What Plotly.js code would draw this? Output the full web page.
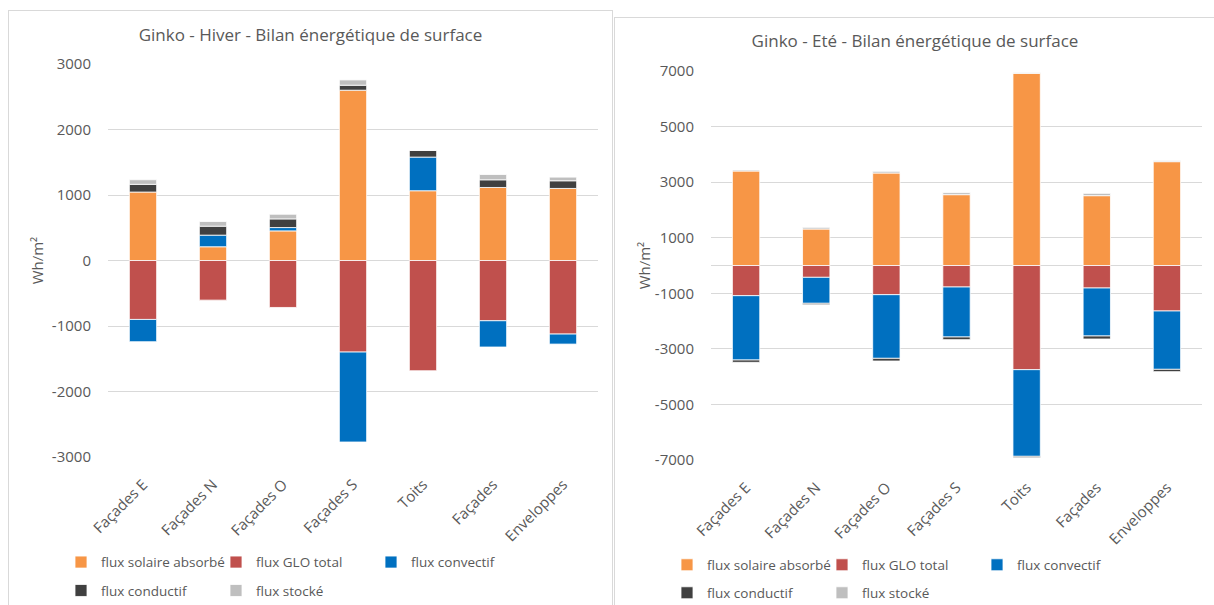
<!DOCTYPE html>
<html><head><meta charset="utf-8">
<script src="https://cdn.plot.ly/plotly-3.0.1.min.js"></script>
<style>
html,body{margin:0;padding:0;background:#fff;overflow:hidden;width:1214px;height:605px;}
.frame{position:absolute;border:1px solid #d9d9d9;background:#fff;}
</style></head><body>
<div class="frame" style="left:8px;top:10px;width:603px;height:620px;"><div id="c1" style="width:603px;height:594px"></div></div>
<div class="frame" style="left:614px;top:17px;width:620px;height:620px;"><div id="c2" style="width:600px;height:587px"></div></div>
<script>
const categories = ["Façades E", "Façades N", "Façades O", "Façades S", "Toits", "Façades", "Enveloppes"];
const seriesNames = ["flux solaire absorbé", "flux GLO total", "flux convectif", "flux conductif", "flux stocké"];

// Hiver (Wh/m²)
const hiverSolaire   = [1045, 210, 452, 2600, 1065, 1115, 1100];
const hiverGLO       = [-900, -605, -717, -1398, -1683, -920, -1123];
const hiverConvectif = [-340, 177, 51, -1373, 514, -401, -153];
const hiverConductif = [118, 137, 132, 76, 101, 117, 117];
const hiverStocke    = [70, 71, 71, 81, 4, 81, 56];

// Eté (Wh/m²)
const eteSolaire   = [3401, 1314, 3329, 2549, 6916, 2513, 3737];
const eteGLO       = [-1086, -426, -1050, -774, -3749, -810, -1637];
const eteConvectif = [-2315, -935, -2291, -1799, -3119, -1727, -2100];
const eteConductif = [-84, -49, -96, -96, -48, -108, -84];
const eteStocke    = [36, 60, 60, 72, 20, 84, 36];

const hiverTickVals = [-3000, -2000, -1000, 0, 1000, 2000, 3000];
const hiverTickText = ["-3000", "-2000", "-1000", "0", "1000", "2000", "3000"];
const eteTickVals = [-7000, -5000, -3000, -1000, 1000, 3000, 5000, 7000];
const eteTickText = ["-7000", "-5000", "-3000", "-1000", "1000", "3000", "5000", "7000"];

const seriesColors = ["#F79646", "#C0504D", "#0070C0", "#404040", "#BFBFBF"];
const TXT = "#595959";
const FONT = "Open Sans, Noto Sans, sans-serif";

function makeTraces(series) {
  return series.map((vals, i) => ({
    type: "bar",
    name: seriesNames[i],
    x: categories,
    y: vals,
    legend: i < 3 ? "legend" : "legend2",
    marker: { color: seriesColors[i], line: { color: "#ffffff", width: 0.8 } },
    hoverinfo: "skip"
  }));
}

function makeLayout(o) {
  const leg = (y) => ({
    orientation: "h", xref: "container", yref: "container",
    x: o.legX, xanchor: "left", y: y, yanchor: "middle",
    entrywidth: 110, entrywidthmode: "pixels", traceorder: "normal",
    font: { family: FONT, size: 13.5, color: TXT }, bgcolor: "rgba(0,0,0,0)"
  });
  return {
    width: o.w, height: o.h,
    margin: o.m,
    paper_bgcolor: "#ffffff", plot_bgcolor: "#ffffff",
    barmode: "relative", bargap: 0.61,
    showlegend: true,
    font: { family: FONT, size: 15, color: TXT },
    title: {
      text: o.title, x: 0.5, xref: "container", xanchor: "center",
      y: o.titleY, yref: "container", yanchor: "middle",
      font: { family: FONT, size: 17, color: TXT }
    },
    xaxis: {
      type: "category", tickangle: -45, showgrid: false, showline: false, zeroline: false,
      ticks: "outside", ticklen: 12, tickcolor: "rgba(0,0,0,0)",
      tickfont: { family: FONT, size: 15, color: TXT }
    },
    yaxis: {
      range: o.range, tickvals: o.tickvals, ticktext: o.ticktext,
      showgrid: true, gridcolor: "#d9d9d9", gridwidth: 1,
      zeroline: true, zerolinecolor: "#d9d9d9", zerolinewidth: 1,
      showline: false, ticks: "outside", ticklen: 13, tickcolor: "rgba(0,0,0,0)",
      tickfont: { family: FONT, size: 15, color: TXT },
      title: { text: "Wh/m²", standoff: o.standoff, font: { family: FONT, size: 15, color: TXT } }
    },
    legend: leg(o.leg1Y),
    legend2: leg(o.leg2Y)
  };
}

const cfg = { displayModeBar: false, staticPlot: true };

Plotly.newPlot("c1",
  makeTraces([hiverSolaire, hiverGLO, hiverConvectif, hiverConductif, hiverStocke]),
  makeLayout({
    w: 603, h: 594, m: { l: 99, r: 14, t: 53, b: 148 },
    title: "Ginko - Hiver - Bilan énergétique de surface", titleY: 1 - 24 / 594,
    range: [-3000, 3000], tickvals: hiverTickVals, ticktext: hiverTickText, standoff: 4,
    legX: 52 / 603, leg1Y: 1 - 551.3 / 594, leg2Y: 1 - 579.7 / 594
  }), cfg);

Plotly.newPlot("c2",
  makeTraces([eteSolaire, eteGLO, eteConvectif, eteConductif, eteStocke]),
  makeLayout({
    w: 600, h: 587, m: { l: 96, r: 13, t: 53, b: 145 },
    title: "Ginko - Eté - Bilan énergétique de surface", titleY: 1 - 22.7 / 587,
    range: [-7000, 7000], tickvals: eteTickVals, ticktext: eteTickText, standoff: 0,
    legX: 52 / 600, leg1Y: 1 - 547 / 587, leg2Y: 1 - 575 / 587
  }), cfg);
</script>
</body></html>
